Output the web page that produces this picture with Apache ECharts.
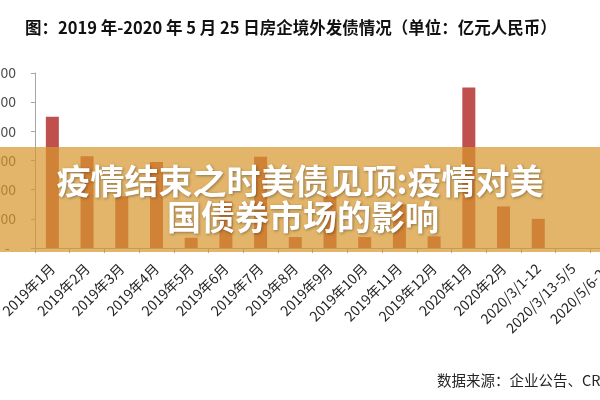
<!DOCTYPE html>
<html>
<head>
<meta charset="utf-8">
<script src="https://cdn.jsdelivr.net/npm/echarts@6/dist/echarts.min.js"></script>
<style>html,body{margin:0;padding:0;background:#fff}#c{width:600px;height:400px}</style>
</head>
<body>
<div id="c"></div>
<script>
var titleText = '图：2019 年-2020 年 5 月 25 日房企境外发债情况（单位：亿元人民币）';
var sourceText = '数据来源：企业公告、CRIC';
var bannerLine1 = '疫情结束之时美债见顶:疫情对美';
var bannerLine2 = '国债券市场的影响';
var categories = ['2019年1月','2019年2月','2019年3月','2019年4月','2019年5月','2019年6月','2019年7月','2019年8月','2019年9月','2019年10月','2019年11月','2019年12月','2020年1月','2020年2月','2020/3/1-12','2020/3/13-5/5','2020/5/6-25'];
var values = [900, 630, 355, 590, 70, 320, 625, 75, 355, 75, 300, 80, 1100, 285, 200, 0, null];
var yTicks = [0, 200, 400, 600, 800, 1000, 1200];

var chart = echarts.init(document.getElementById('c'), null, {renderer: 'canvas'});
var cjk = '"Noto Sans CJK SC", "Noto Sans", sans-serif';
chart.setOption({
  animation: false,
  backgroundColor: '#ffffff',
  title: {
    text: titleText,
    left: 25, top: 19, padding: 0,
    textStyle: {fontSize: 16.5, fontWeight: 'bold', color: '#111', fontFamily: cjk}
  },
  grid: {left: 35, right: -25, top: 73, bottom: 152, containLabel: false, outerBoundsMode: 'none'},
  xAxis: {
    type: 'category',
    data: categories,
    axisLine: {lineStyle: {color: '#a6a6a6', width: 1}},
    axisTick: {show: true, length: 5, lineStyle: {color: '#a6a6a6'}},
    axisLabel: {rotate: 45, interval: 0, margin: 18, fontSize: 14, color: '#262626', fontFamily: cjk}
  },
  yAxis: {
    type: 'value',
    min: yTicks[0], max: yTicks[yTicks.length - 1], interval: 200,
    splitLine: {show: false},
    axisLine: {show: true, lineStyle: {color: '#a6a6a6', width: 1}},
    axisTick: {show: true, length: 4, lineStyle: {color: '#a6a6a6'}},
    axisLabel: {
      margin: 19, fontSize: 14, color: '#4d4d4d', fontFamily: cjk,
      formatter: function (v) { return v === 0 ? '-  ' : String(v); }
    }
  },
  series: [{
    type: 'bar',
    data: values,
    barWidth: 13,
    itemStyle: {color: '#c0504d'}
  }],
  graphic: [
    {type: 'rect', z: 100, shape: {x: 0, y: 147, width: 600, height: 105}, style: {fill: 'rgba(214,151,45,0.71)'}},
    {type: 'text', z: 101, x: 300, y: 181, style: {text: bannerLine1, align: 'center', verticalAlign: 'middle', fontSize: 34, fontWeight: 'bold', fontFamily: cjk, fill: '#ffffff', textShadowColor: 'rgba(0,0,0,0.35)', textShadowBlur: 3, textShadowOffsetX: 1, textShadowOffsetY: 1}},
    {type: 'text', z: 101, x: 303, y: 217, style: {text: bannerLine2, align: 'center', verticalAlign: 'middle', fontSize: 34, fontWeight: 'bold', fontFamily: cjk, fill: '#ffffff', textShadowColor: 'rgba(0,0,0,0.35)', textShadowBlur: 3, textShadowOffsetX: 1, textShadowOffsetY: 1}},
    {type: 'text', z: 101, x: 437, y: 380, style: {text: sourceText, align: 'left', verticalAlign: 'middle', fontSize: 14.5, fontFamily: cjk, fill: '#262626'}}
  ]
});
</script>
</body>
</html>
